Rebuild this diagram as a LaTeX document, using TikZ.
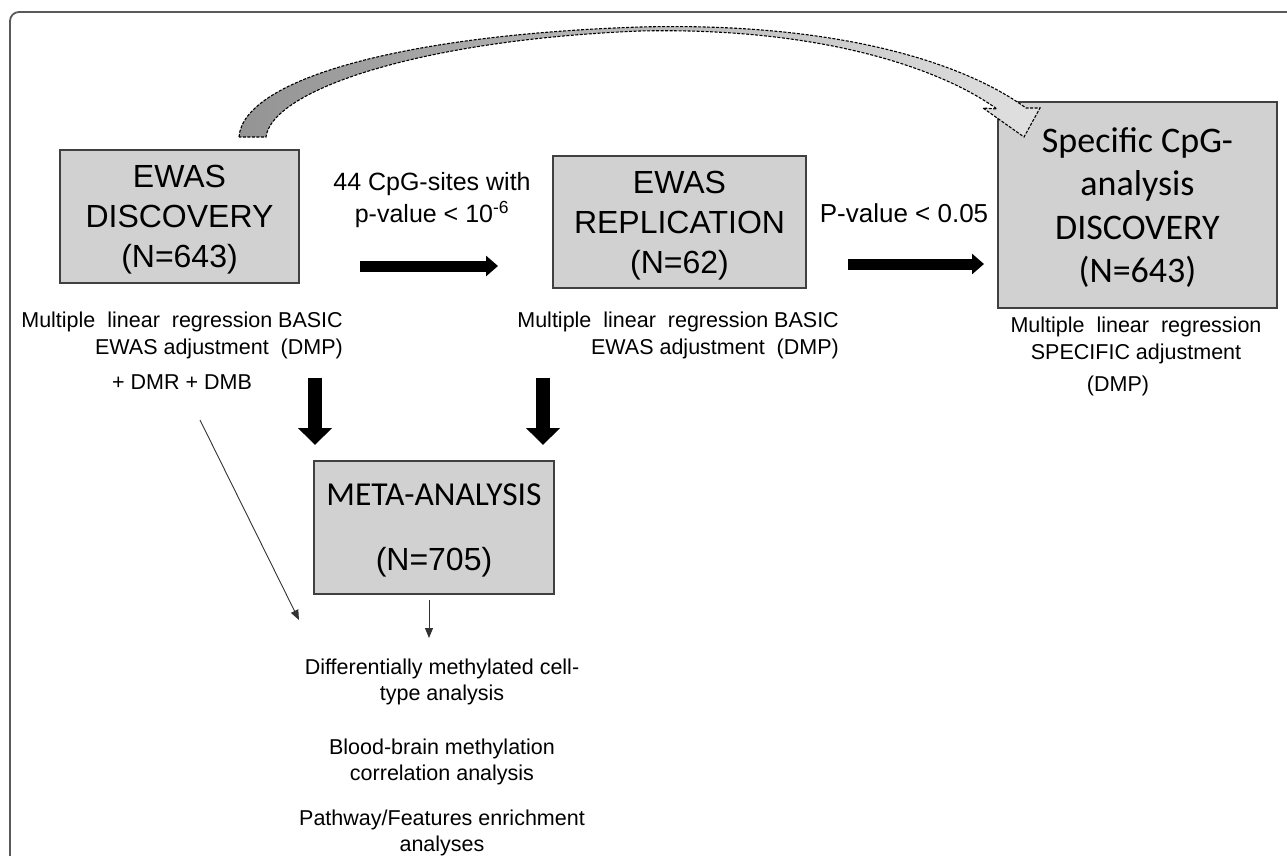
\documentclass[tikz,border=0pt]{standalone}
\usepackage{fontspec}
\setmainfont{Liberation Sans}
\newfontfamily\calfont{Carlito}
\usetikzlibrary{arrows.meta}
\begin{document}
\begin{tikzpicture}[x=1pt,y=-1pt,
  box/.style={draw=black!75, line width=1.5pt, fill=black!18, inner sep=0pt, align=center},
  bigfont/.style={font=\fontsize{32}{40}\selectfont},
  labfont/.style={font=\fontsize{21.5}{27}\selectfont, inner sep=0pt},
  listfont/.style={font=\fontsize{21.5}{26}\selectfont, inner sep=0pt, align=center},
  harrow/.style={line width=11pt, -{Triangle[width=20pt,length=12pt]}},
  varrow/.style={line width=14.5pt, -{Triangle[width=33pt,length=17pt]}},
  thinarrow/.style={line width=0.9pt, black!80, -{Triangle[width=8pt,length=10pt]}},
  frame/.style={draw=black!65, line width=1.8pt, rounded corners=9pt}
]
\useasboundingbox (0,0) rectangle (1287,855);
\draw[frame] (10,870) -- (10,12) -- (1300,12);

% boxes
\node[box, bigfont, text depth=0pt, minimum width=239pt, minimum height=133pt] (disc) at (179.5,216.5)
  {EWAS\\DISCOVERY\\(N=643)};
\node[box, bigfont, text depth=0pt, minimum width=253pt, minimum height=132pt] (repl) at (679.5,222)
  {EWAS\\REPLICATION\\(N=62)};
\node[box, font=\calfont\fontsize{36}{43.5}\selectfont, text depth=0pt, minimum width=279pt, minimum height=206pt] (spec) at (1137.5,205)
  {Specific CpG-\\analysis\\DISCOVERY\\(N=643)};
\node[box, bigfont, text depth=-13pt, minimum width=240pt, minimum height=133pt] (meta) at (434,527.5)
  {{\calfont\fontsize{33.5}{40}\selectfont META-ANALYSIS}\\[25pt](N=705)};

% curved ribbon arrow (drawn over the boxes)
\path[draw=black, line width=1.1pt, dash pattern=on 3pt off 1.5pt, left color=black!42, right color=black!12]
  (239,137) .. controls (243,80) and (400,35) .. (640,27)
  .. controls (830,22) and (960,60) .. (1026,108)
  -- (1040,108) -- (1024,137) -- (983,108) -- (997,109)
  .. controls (940,68) and (820,27) .. (640,31)
  .. controls (420,40) and (272,90) .. (266,137) -- cycle;

% arrow labels
\node[font=\fontsize{25}{32}\selectfont, align=center, inner sep=0pt] (lab44) at (432,200)
  {44 CpG-sites with\\p-value {\textless} 10\textsuperscript{-6}};
\node[font=\fontsize{26}{30}\selectfont, inner sep=0pt] (labp) at (904,213) {P-value {\textless} 0.05};

% labels below boxes
\node[labfont, align=right, anchor=east] (lab1) at (343,335)
  {Multiple\ \ linear\ \ regression BASIC\\EWAS adjustment\ \ (DMP)};
\node[labfont] (lab1b) at (182,382) {+ DMR + DMB};
\node[labfont, align=right, anchor=east] (lab2) at (839,335)
  {Multiple\ \ linear\ \ regression BASIC\\EWAS adjustment\ \ (DMP)};
\node[labfont, align=center] (lab3) at (1136,356)
  {Multiple\ \ linear\ \ regression\\SPECIFIC adjustment\\[5pt](DMP)\hspace*{36pt}};

% bottom list
\node[listfont] (list1) at (442,682) {Differentially methylated cell-\\type analysis};
\node[listfont] (list2) at (442,762) {Blood-brain methylation\\correlation analysis};
\node[listfont] (list3) at (442,833) {Pathway/Features enrichment\\analyses};

% connectors
\coordinate (h1s) at (360,266); \coordinate (h1e) at (498,266);
\coordinate (h2s) at (848,264); \coordinate (h2e) at (984,264);
\draw[harrow] (h1s) -- (h1e);
\draw[harrow] (h2s) -- (h2e);

\coordinate (v1s) at (315,378); \coordinate (v1e) at (315,445);
\coordinate (v2s) at (543,378); \coordinate (v2e) at (543,445);
\draw[varrow] (v1s) -- (v1e);
\draw[varrow] (v2s) -- (v2e);

\coordinate (d1s) at (200,420); \coordinate (d1e) at (299,620);
\draw[thinarrow] (d1s) -- (d1e);
\coordinate (m1s) at (429,600); \coordinate (m1e) at (429,638);
\draw[thinarrow] (m1s) -- (m1e);
\end{tikzpicture}
\end{document}
